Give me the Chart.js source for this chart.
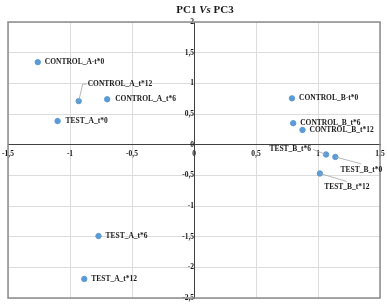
<!DOCTYPE html>
<html>
<head>
<meta charset="utf-8">
<script src="https://cdn.jsdelivr.net/npm/chart.js@4"></script>
<style>
  html, body { margin: 0; padding: 0; background: #fff; }
  #wrap { width: 387px; height: 304px; position: relative; }
</style>
</head>
<body>
<div id="wrap"><canvas id="chartPca"></canvas></div>
<script>
(function () {
    "use strict";

    const samples = ["CONTROL_A-t*0", "CONTROL_A_t*12", "CONTROL_A_t*6", "TEST_A_t*0", "TEST_A_t*6", "TEST_A_t*12",
        "CONTROL_B-t*0", "CONTROL_B_t*6", "CONTROL_B_t*12", "TEST_B_t*6", "TEST_B_t*0", "TEST_B_t*12"];
    const pc1 = [-1.26, -0.93, -0.70, -1.10, -0.77, -0.885, 0.79, 0.80, 0.875, 1.065, 1.14, 1.015];
    const pc3 = [1.345, 0.71, 0.74, 0.385, -1.49, -2.19, 0.755, 0.35, 0.24, -0.16, -0.20, -0.47];

    // label placement relative to each point: [dx, dy, align, leader]
    const labelPlacement = [
        [7, 0, "left", false], [9, -17, "left", true], [8, 0, "left", false], [8, 0, "left", false],
        [7, 0, "left", false], [7, 0, "left", false], [7, 0, "left", false], [7, 0, "left", false],
        [7, 0, "left", false], [-15, -5, "right", true], [26, 13, "center", true], [27, 14, "center", true]
    ];

    const palette = {
        point: "#5b9bd5",
        text: "#1a1a1a",
        grid: "#dcdcdc",
        axis: "#404040",
        frame: "#8c8c8c",
        leader: "#a6a6a6"
    };
    const serif = "'Liberation Serif', 'Times New Roman', serif";

    const fmt = (v) => String(v).replace(".", ",");
    const noEdgePadding = (scale) => {
        scale.paddingLeft = 0;
        scale.paddingRight = 0;
        scale.paddingTop = 0;
        scale.paddingBottom = 0;
    };

    const labelsPlugin = {
        id: "pointLabels",
        afterDatasetsDraw(chart) {
            const ctx = chart.ctx;
            const meta = chart.getDatasetMeta(0);
            ctx.save();
            ctx.font = "bold 7.5px " + serif;
            ctx.textBaseline = "middle";
            meta.data.forEach((pt, i) => {
                const [dx, dy, align, leader] = labelPlacement[i];
                const lx = pt.x + dx, ly = pt.y + dy;
                if (leader) {
                    ctx.strokeStyle = palette.leader;
                    ctx.lineWidth = 0.8;
                    ctx.beginPath();
                    ctx.moveTo(pt.x, pt.y);
                    if (align === "left") {
                        ctx.lineTo(lx - 5, ly);
                        ctx.lineTo(lx - 1, ly);
                    } else if (align === "right") {
                        ctx.lineTo(lx + 2, ly);
                    } else {
                        ctx.lineTo(lx, ly - 6);
                    }
                    ctx.stroke();
                }
                ctx.fillStyle = palette.text;
                ctx.textAlign = align;
                ctx.fillText(samples[i], lx, ly);
            });
            ctx.restore();
        }
    };

    const framePlugin = {
        id: "frameAndTitle",
        beforeDatasetsDraw(chart) {
            const { ctx, chartArea: a } = chart;
            ctx.save();
            ctx.strokeStyle = palette.frame;
            ctx.lineWidth = 1.5;
            ctx.strokeRect(a.left, a.top, a.right - a.left, a.bottom - a.top);
            ctx.restore();
        },
        afterDraw(chart) {
            const ctx = chart.ctx;
            const parts = [["PC1 ", "bold "], ["Vs", "italic bold "], [" PC3", "bold "]];
            ctx.save();
            ctx.fillStyle = palette.text;
            ctx.textBaseline = "middle";
            ctx.textAlign = "left";
            let total = 0;
            parts.forEach(([t, s]) => { ctx.font = s + "11px " + serif; total += ctx.measureText(t).width; });
            let x = 205 - total / 2;
            parts.forEach(([t, s]) => {
                ctx.font = s + "11px " + serif;
                ctx.fillText(t, x, 10);
                x += ctx.measureText(t).width;
            });
            ctx.restore();
        }
    };

    new Chart(document.getElementById("chartPca"), {
        type: "scatter",
        data: {
            datasets: [{
                label: "PC1 vs PC3",
                data: pc1.map((x, i) => ({ x: x, y: pc3[i] })),
                backgroundColor: palette.point,
                borderColor: palette.point,
                pointRadius: 2.7,
                pointHoverRadius: 2.7
            }]
        },
        options: {
            responsive: true,
            maintainAspectRatio: false,
            animation: false,
            layout: { padding: { left: 8, right: 7, top: 22, bottom: 6 } },
            plugins: {
                legend: { display: false },
                tooltip: { enabled: false },
                title: { display: false }
            },
            scales: {
                x: {
                    type: "linear",
                    min: -1.5,
                    max: 1.5,
                    position: { y: 0 },
                    afterFit: noEdgePadding,
                    grid: { color: palette.grid, drawTicks: false },
                    border: { color: palette.axis, width: 1 },
                    ticks: { stepSize: 0.5, padding: 5, color: palette.text, font: { family: serif, size: 7.5, weight: "bold" }, callback: fmt, maxRotation: 0 }
                },
                y: {
                    type: "linear",
                    min: -2.5,
                    max: 2,
                    position: { x: 0 },
                    afterFit: noEdgePadding,
                    grid: { color: palette.grid, drawTicks: false },
                    border: { color: palette.axis, width: 1 },
                    ticks: { stepSize: 0.5, padding: 4, color: palette.text, font: { family: serif, size: 7.5, weight: "bold" }, callback: fmt }
                }
            }
        },
        plugins: [framePlugin, labelsPlugin]
    });
})();
</script>
</body>
</html>
